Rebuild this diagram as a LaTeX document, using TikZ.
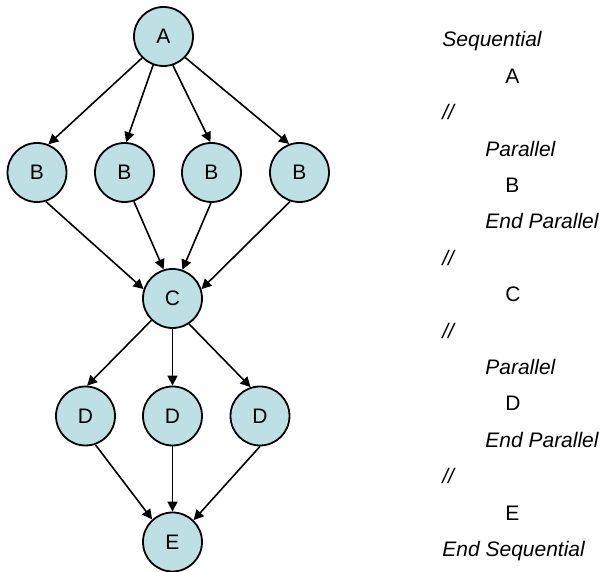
\documentclass[tikz,border=0pt]{standalone}
\usepackage{fontspec}
\setmainfont{Liberation Sans}
\usepackage{tikz}
\usetikzlibrary{arrows.meta}

\definecolor{taskfill}{RGB}{190,224,228}

\begin{document}
\begin{tikzpicture}[
    x=0.5pt, y=-0.5pt,
    task/.style={
        circle,
        draw=black,
        line width=0.9pt,
        fill=taskfill,
        minimum size=29.5pt,
        inner sep=0pt,
        font=\fontsize{10.5}{12}\selectfont
    },
    arrow/.style={
        -{Triangle[length=5pt, width=5pt]},
        line width=0.8pt,
        color=black
    },
    code/.style={
        anchor=base west,
        inner sep=0pt,
        font=\fontsize{10.5}{12}\selectfont
    },
    keyword/.style={
        code,
        font=\fontsize{10.5}{12}\selectfont\itshape
    }
]
\useasboundingbox (0,0) rectangle (602,572);

% graph
\node[task] (A) at (163.5, 36.5) {A};

\foreach \i/\x/\s/\t in {1/37/225/68, 2/124.5/250/87, 3/211.5/288/92, 4/299.5/316/110} {
    \node[task] (B\i) at (\x, 172.5) {B};
    \draw[arrow] (A.\s) -- (B\i.\t);
}

\node[task] (C) at (172.5, 298.5) {C};
\foreach \i/\s/\t in {1/287/162, 2/288/107, 3/269/71, 4/252/18} {
    \draw[arrow] (B\i.\s) -- (C.\t);
}

\node[task] (E) at (172.5, 542) {E};
\foreach \i/\x/\s/\t/\u/\v in {1/85.5/226/87/289/132, 2/172.5/270/90/270/90, 3/260/303/108/270/46} {
    \node[task] (D\i) at (\x, 416) {D};
    \draw[arrow] (C.\s) -- (D\i.\t);
    \draw[arrow] (D\i.\u) -- (E.\v);
}

% program text
\node[keyword] (l0) at (442, 47) {Sequential};
\node[code] (l1) at (505, 83.4) {A};
\node[keyword] (l2) at (442, 119.8) {//};
\node[keyword] (l3) at (485, 156.2) {Parallel};
\node[code] (l4) at (505, 192.6) {B};
\node[keyword] (l5) at (485, 229) {End Parallel};
\node[keyword] (l6) at (442, 265.4) {//};
\node[code] (l7) at (505, 301.8) {C};
\node[keyword] (l8) at (442, 338.2) {//};
\node[keyword] (l9) at (485, 374.6) {Parallel};
\node[code] (l10) at (505, 411) {D};
\node[keyword] (l11) at (485, 447.4) {End Parallel};
\node[keyword] (l12) at (442, 483.8) {//};
\node[code] (l13) at (505, 520.2) {E};
\node[keyword] (l14) at (442, 556.6) {End Sequential};

\end{tikzpicture}
\end{document}
